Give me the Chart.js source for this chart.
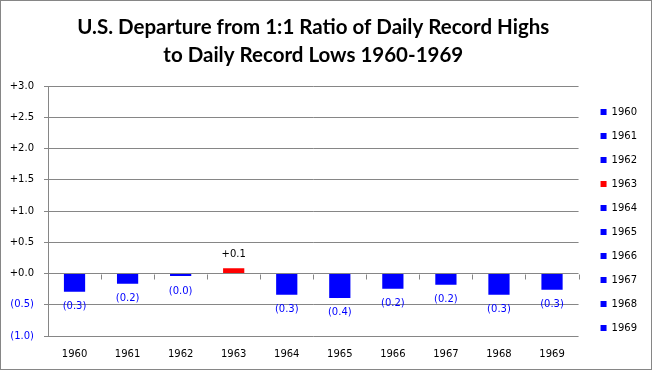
<!DOCTYPE html>
<html>
<head>
<meta charset="utf-8">
<script src="https://cdn.jsdelivr.net/npm/chart.js@4.4.1/dist/chart.umd.min.js"></script>
<style>
  body { margin: 0; background: #fff; }
  #wrap { width: 652px; height: 370px; }
</style>
</head>
<body>
<div id="wrap"><canvas id="chart" width="652" height="370"></canvas></div>
<script>
'use strict';
// data
const years = ['1960', '1961', '1962', '1963', '1964', '1965', '1966', '1967', '1968', '1969'];
const departure = [-0.29, -0.165, -0.04, 0.085, -0.34, -0.39, -0.245, -0.18, -0.34, -0.26];
const barColors = ['#0000ff', '#0000ff', '#0000ff', '#ff0000', '#0000ff', '#0000ff', '#0000ff', '#0000ff', '#0000ff', '#0000ff'];
const titleLines = ['U.S. Departure from 1:1 Ratio of Daily Record Highs', 'to Daily Record Lows 1960-1969'];

const gridGray = '#868686';
const negBlue = '#0000ff';

function fmt(v) {
  if (v < 0) return '(' + Math.abs(v).toFixed(1) + ')';
  return '+' + v.toFixed(1);
}

// frame round the whole picture
const framePlugin = {
  id: 'frame',
  beforeDraw(chart) {
    const c = chart.ctx;
    c.save();
    c.fillStyle = '#fff';
    c.fillRect(0, 0, chart.width, chart.height);
    c.strokeStyle = gridGray;
    c.lineWidth = 1;
    c.strokeRect(0.5, 0.5, chart.width - 1, chart.height - 1);
    c.restore();
  }
};

// small tick marks on the zero line between categories
const zeroTicks = {
  id: 'zeroTicks',
  afterDraw(chart) {
    const x = chart.scales.x;
    const y0 = Math.round(chart.scales.y.getPixelForValue(0)) + 0.5;
    const step = x.width / years.length;
    const c = chart.ctx;
    c.save();
    c.strokeStyle = gridGray;
    c.lineWidth = 1;
    c.beginPath();
    for (let i = 0; i <= years.length; i++) {
      const px = Math.round(x.left + i * step) + 0.5;
      c.moveTo(px, y0);
      c.lineTo(px, y0 + 5);
    }
    c.stroke();
    c.restore();
  }
};

// value labels at the end of each bar
const barLabels = {
  id: 'barLabels',
  afterDatasetsDraw(chart) {
    const meta = chart.getDatasetMeta(0);
    const c = chart.ctx;
    c.save();
    c.font = '10px "DejaVu Sans"';
    c.textAlign = 'center';
    c.textBaseline = 'middle';
    meta.data.forEach((bar, i) => {
      const v = departure[i];
      c.fillStyle = v < 0 ? negBlue : '#000';
      c.fillText(fmt(v), bar.x, v < 0 ? bar.y + 15 : bar.y - 14);
    });
    c.restore();
  }
};

const ctx = document.getElementById('chart').getContext('2d');
new Chart(ctx, {
  type: 'bar',
  data: {
    labels: years,
    datasets: [{
      data: departure,
      backgroundColor: barColors,
      borderWidth: 0,
      barPercentage: 0.4,
      categoryPercentage: 1.0
    }]
  },
  options: {
    responsive: false,
    animation: false,
    layout: { padding: { left: 0, right: 5, top: 0, bottom: 0 } },
    plugins: {
      tooltip: { enabled: false },
      title: {
        display: true,
        fullSize: false,
        text: titleLines,
        color: '#000',
        font: { family: 'Lato', size: 20.5, weight: 'bold', lineHeight: 1.37 },
        padding: { top: 13, bottom: 17 }
      },
      legend: {
        position: 'right',
        align: 'start',
        fullSize: true,
        onClick: null,
        title: { display: true, text: ' ', font: { size: 1, lineHeight: 1 }, padding: { top: 92, bottom: 0 } },
        labels: {
          boxWidth: 6,
          boxHeight: 6,
          padding: 14,
          color: '#000',
          font: { family: 'DejaVu Sans', size: 10 },
          generateLabels(chart) {
            return years.map((y, i) => ({
              text: y,
              fillStyle: barColors[i],
              strokeStyle: barColors[i],
              fontColor: '#000',
              lineWidth: 0,
              hidden: false,
              index: i
            }));
          }
        }
      }
    },
    scales: {
      x: {
        offset: true,
        grid: { display: false, drawTicks: false },
        border: { display: false },
        ticks: { color: '#000', padding: 12, font: { family: 'DejaVu Sans', size: 10 } },
        afterFit(s) { s.height = 34; }
      },
      y: {
        min: -1,
        max: 3,
        ticks: {
          stepSize: 0.5,
          padding: 10,
          font: { family: 'DejaVu Sans', size: 10 },
          color: (c) => (c.tick && c.tick.value < 0 ? negBlue : '#000'),
          callback: (v) => fmt(v)
        },
        grid: { color: gridGray, tickLength: 4 },
        border: { display: true, color: gridGray },
        afterFit(s) { s.width = 48; }
      },
      gap: {
        position: 'right',
        display: true,
        grid: { display: false, drawTicks: false },
        border: { display: false },
        ticks: { display: false },
        afterFit(s) { s.width = 8; }
      }
    }
  },
  plugins: [framePlugin, zeroTicks, barLabels]
});
</script>
</body>
</html>
